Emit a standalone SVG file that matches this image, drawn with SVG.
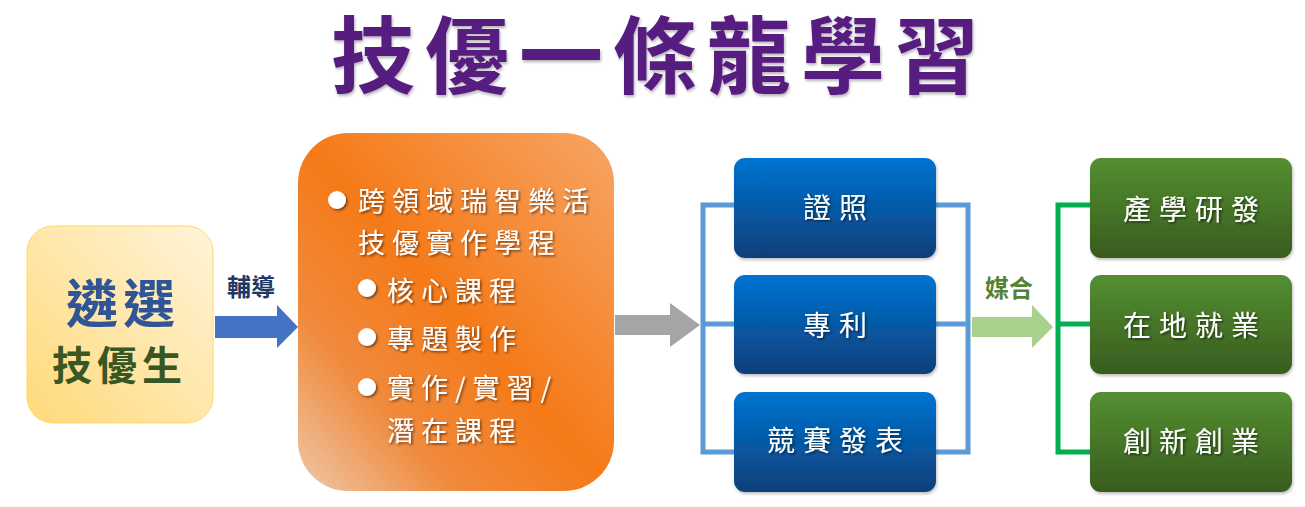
<svg xmlns="http://www.w3.org/2000/svg" width="1305" height="507" viewBox="0 0 1305 507">
<style>
.cjk{font-family:"Noto Sans CJK TC","Noto Sans CJK SC",sans-serif}
.wt{fill:#ffffff;filter:url(#ts)}
.bx{font-size:28px;letter-spacing:8px}
.ot{font-size:27px;letter-spacing:7px}
.conn{fill:none;stroke-width:5}
</style>
<defs>
<filter id="ts" x="-10%" y="-20%" width="130%" height="150%"><feDropShadow dx="1.5" dy="1.5" stdDeviation="0.8" flood-color="#000" flood-opacity="0.55"/></filter>
<filter id="tts" filterUnits="userSpaceOnUse" x="300" y="0" width="700" height="110"><feDropShadow dx="1" dy="2" stdDeviation="1.5" flood-color="#000" flood-opacity="0.3"/></filter>
<filter id="bs" x="-5%" y="-5%" width="115%" height="115%"><feDropShadow dx="1" dy="2" stdDeviation="1.5" flood-color="#000" flood-opacity="0.25"/></filter>
<linearGradient id="gy" x1="1" y1="0" x2="0" y2="1"><stop offset="0" stop-color="#FFF4DA"/><stop offset="1" stop-color="#FFDA7A"/></linearGradient>
<linearGradient id="go" x1="1" y1="0" x2="0" y2="1"><stop offset="0" stop-color="#F7A565"/><stop offset="0.5" stop-color="#F57A18"/><stop offset="0.75" stop-color="#F08A3C"/><stop offset="1" stop-color="#EEC8AA"/></linearGradient>
<linearGradient id="gb" x1="0" y1="0" x2="0" y2="1"><stop offset="0" stop-color="#0074D2"/><stop offset="1" stop-color="#0C3F7A"/></linearGradient>
<linearGradient id="gg" x1="0" y1="0" x2="0" y2="1"><stop offset="0" stop-color="#548F31"/><stop offset="1" stop-color="#385C1E"/></linearGradient>
</defs>
<rect width="1305" height="507" fill="#ffffff"/>
<g id="title"><text class="cjk" x="331" y="87" font-size="84" font-weight="700" letter-spacing="10" fill="#561A80" filter="url(#tts)">技優一條龍學習</text></g>
<g id="connectors">
<polygon points="215,316 277,316 277,305 298,327 277,348 277,338 215,338" fill="#4472C4"/>
<polygon points="615,315 670,315 670,303 700,325 670,347 670,335 615,335" fill="#A5A5A5"/>
<polygon points="972,317 1032,317 1032,305 1053,327 1032,348 1032,337 972,337" fill="#A9D18E"/>
<path class="conn" stroke="#5B9BD5" d="M735,205 H703 V452 H735 M703,324 H735"/>
<path class="conn" stroke="#5B9BD5" d="M936,205 H968 V452 H936 M936,324 H968"/>
<path class="conn" stroke="#00B050" d="M1090,205 H1058 V452 H1090 M1058,324 H1090"/>
<text class="cjk" x="227" y="296" font-size="24" font-weight="700" fill="#1F3864">輔導</text>
<text class="cjk" x="985" y="297" font-size="24" font-weight="700" fill="#548235">媒合</text>
</g>
<g id="select">
<rect x="27" y="226" width="186" height="197" rx="26" fill="url(#gy)" stroke="#FFD966" stroke-width="1"/>
<text class="cjk" x="66" y="323" font-size="52" font-weight="700" letter-spacing="5" fill="#2F5597">遴選</text>
<text class="cjk" x="52" y="380" font-size="40" font-weight="700" letter-spacing="5" fill="#385723">技優生</text>
</g>
<g id="program">
<rect x="298" y="133" width="316" height="358" rx="50" fill="url(#go)"/>
<g fill="#ffffff" filter="url(#ts)">
<circle cx="337" cy="200" r="9"/><circle cx="367" cy="288" r="9"/><circle cx="367" cy="337" r="9"/><circle cx="367" cy="387" r="9"/>
</g>
<text class="cjk wt ot" x="358" y="211">跨領域瑞智樂活</text>
<text class="cjk wt ot" x="358" y="253">技優實作學程</text>
<text class="cjk wt ot" x="387" y="301">核心課程</text>
<text class="cjk wt ot" x="387" y="349">專題製作</text>
<text class="cjk wt ot" x="387" y="398">實作/實習/</text>
<text class="cjk wt ot" x="387" y="441">潛在課程</text>
</g>
<g id="cert"><rect x="734" y="158" width="202" height="100" rx="11" fill="url(#gb)" filter="url(#bs)"/><text class="cjk wt bx" x="803" y="218">證照</text></g>
<g id="patent"><rect x="734" y="275" width="202" height="99" rx="11" fill="url(#gb)" filter="url(#bs)"/><text class="cjk wt bx" x="803" y="336">專利</text></g>
<g id="contest"><rect x="734" y="392" width="202" height="100" rx="11" fill="url(#gb)" filter="url(#bs)"/><text class="cjk wt bx" x="767" y="451">競賽發表</text></g>
<g id="rnd"><rect x="1090" y="158" width="202" height="100" rx="11" fill="url(#gg)" filter="url(#bs)"/><text class="cjk wt bx" x="1123" y="220">產學研發</text></g>
<g id="local"><rect x="1090" y="275" width="202" height="99" rx="11" fill="url(#gg)" filter="url(#bs)"/><text class="cjk wt bx" x="1123" y="336">在地就業</text></g>
<g id="startup"><rect x="1090" y="392" width="202" height="100" rx="11" fill="url(#gg)" filter="url(#bs)"/><text class="cjk wt bx" x="1123" y="452">創新創業</text></g>
</svg>
